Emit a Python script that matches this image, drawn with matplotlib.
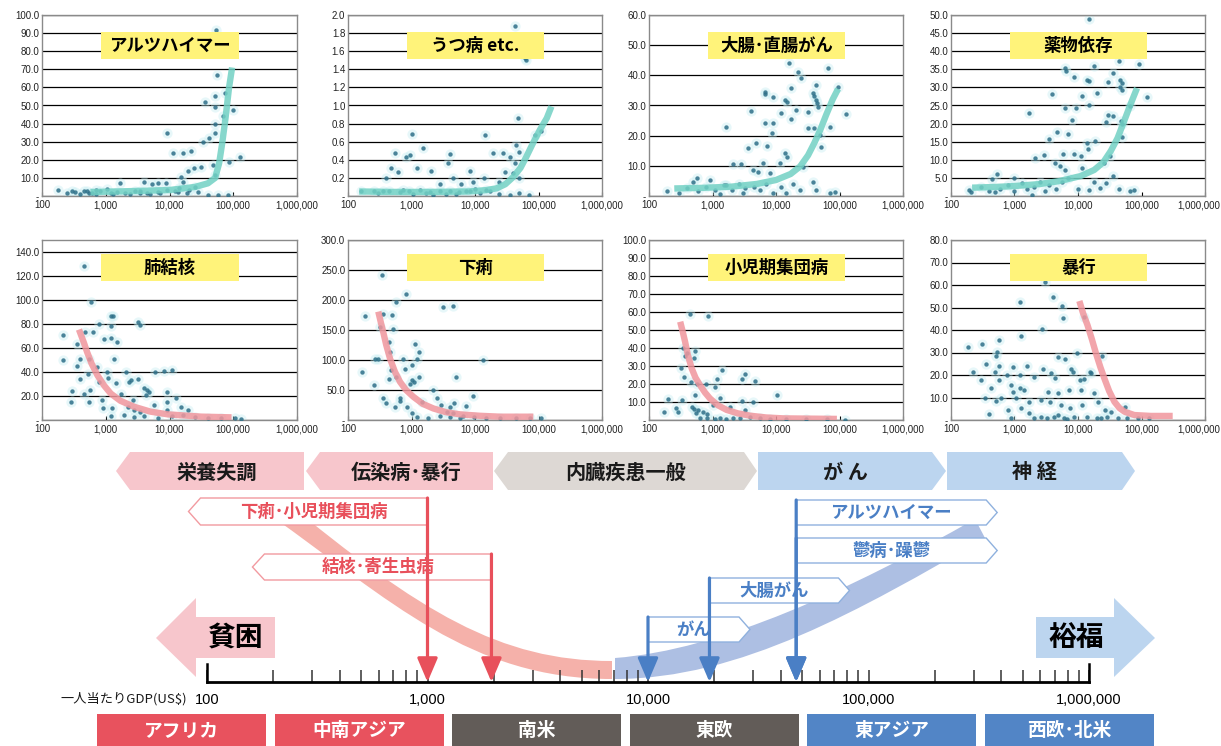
"""Disease burden vs. GDP per capita infographic."""
import numpy as np
import matplotlib
matplotlib.use("Agg")
import matplotlib.pyplot as plt
from matplotlib.patches import Polygon, Rectangle, PathPatch
from matplotlib.path import Path
from matplotlib.ticker import FuncFormatter, LogLocator, NullFormatter, NullLocator

plt.rcParams["font.family"] = ["Noto Sans CJK JP", "DejaVu Sans"]

W, H = 1221, 746

# ---------------- scatter panels: (GDP per capita, value) ----------------
alz_pts = [(180, 3.3), (245, 1.8), (330, 2.4), (450, 3.0), (600, 1.8), (1050, 3.7), (1500, 2.4),
           (2000, 1.5), (2900, 3.0), (4500, 1.8), (6500, 2.4), (9300, 3.3), (13500, 2.2),
           (19000, 1.5), (28000, 2.4), (40000, 0.6), (57000, 0.5), (83000, 0.4), (400, 1.1),
           (550, 1.5), (700, 0.9), (1200, 1.8), (2400, 0.9), (3400, 1.5), (5000, 0.9), (7000, 1.5),
           (300, 2.5), (800, 2.8), (1700, 7.0), (4000, 8.0), (5400, 6.4), (6500, 7.0), (8800, 7.4),
           (9300, 35.0), (11200, 23.6), (16000, 24.0), (22000, 25.0), (16000, 8.0), (15200, 10.7),
           (19400, 14.0), (24500, 15.3), (31500, 15.8), (48000, 17.0), (87000, 19.0),
           (126000, 21.7), (33500, 30.0), (41500, 32.0), (51000, 34.6), (51000, 40.0),
           (51000, 11.6), (51000, 49.0), (70000, 44.0), (100000, 47.5), (36000, 52.0),
           (51000, 55.0), (75000, 57.0), (56000, 66.9), (54000, 91.7), (14000, 4.5), (25000, 5.0),
           (12000, 3.0), (20000, 3.5), (3500, 2.5), (1300, 1.0), (700, 3.2), (500, 2.8)]
alz_curve_x = [575, 2000, 10000, 25000, 40000, 52000, 60000, 67000, 75000, 86000, 96000]
alz_curve_y = [2.2, 2.6, 3.3, 5.0, 7.0, 10.0, 18.0, 29.0, 42.0, 60.0, 71.0]

dep_pts = [(42000, 1.88), (64000, 1.50), (62000, 1.52), (48000, 0.86), (87000, 0.67),
           (110000, 0.72), (45000, 0.56), (49000, 0.49), (36000, 0.43), (28000, 0.48),
           (19000, 0.48), (14500, 0.67), (42000, 0.36), (30000, 0.27), (24000, 0.16),
           (50000, 0.20), (40000, 0.25), (1000, 0.68), (1500, 0.53), (940, 0.45), (830, 0.43),
           (540, 0.48), (480, 0.31), (610, 0.27), (400, 0.20), (1200, 0.31), (2000, 0.28),
           (4000, 0.46), (3700, 0.36), (4500, 0.20), (2800, 0.13), (8300, 0.28), (6000, 0.13),
           (9300, 0.16), (14000, 0.20), (160, 0.06), (260, 0.06), (350, 0.05), (450, 0.06),
           (650, 0.04), (930, 0.05), (1350, 0.07), (1950, 0.04), (2800, 0.05), (4000, 0.06),
           (5700, 0.04), (8200, 0.05), (11800, 0.03), (17000, 0.05), (24000, 0.02),
           (35000, 0.01), (50000, 0.03), (72000, 0.01), (730, 0.07), (1050, 0.02), (2200, 0.01),
           (3500, 0.02), (5000, 0.02), (7300, 0.06), (15000, 0.07), (300, 0.03), (1700, 0.03),
           (10000, 0.08)]
dep_curve_x = [150, 500, 2000, 8000, 15000, 22000, 30000, 40000, 52000, 64000, 80000, 105000,
               135000, 160000]
dep_curve_y = [0.05, 0.045, 0.045, 0.05, 0.065, 0.085, 0.13, 0.21, 0.31, 0.43, 0.57, 0.73,
               0.86, 0.99]

crc_pts = [(16000, 44.2), (22000, 41.2), (25000, 39.0), (66000, 42.3), (95000, 36.2),
           (17500, 35.7), (6600, 34.6), (6700, 33.8), (9000, 32.7), (13800, 31.8), (15000, 31.3),
           (21000, 28.5), (12000, 27.4), (4100, 28.3), (32000, 28.0), (38000, 34.0),
           (40000, 33.0), (42000, 31.8), (44000, 30.7), (46000, 29.6), (42000, 36.8),
           (126000, 27.2), (1650, 22.8), (17000, 25.4), (6600, 24.3), (9000, 24.3), (32000, 22.4),
           (40000, 22.4), (70000, 23.0), (8500, 20.8), (49000, 20.2), (52000, 16.4), (4900, 17.7),
           (3600, 15.8), (7100, 16.6), (13800, 14.1), (15000, 13.0), (2100, 10.6), (2800, 10.6),
           (6300, 10.8), (11400, 10.8), (27000, 9.7), (4400, 8.6), (5200, 8.0), (8000, 7.5),
           (490, 4.8), (560, 5.9), (900, 5.3), (1650, 3.6), (38000, 4.8), (18500, 4.0),
           (14500, 1.1), (43000, 2.0), (23500, 2.0), (70000, 1.1), (84000, 1.4), (190, 1.8),
           (300, 1.1), (400, 2.5), (600, 1.5), (800, 3.0), (1100, 2.0), (1500, 3.5), (2000, 2.0),
           (2600, 4.0), (3300, 2.5), (4500, 3.0), (5500, 2.0), (7000, 4.0), (9000, 1.0),
           (12000, 3.0), (1300, 0.5), (3000, 1.0)]
crc_curve_x = [250, 700, 2000, 5000, 10000, 17000, 24000, 32000, 40000, 50000, 62000, 78000, 95000]
crc_curve_y = [2.5, 2.7, 3.1, 4.0, 5.3, 7.3, 9.8, 13.5, 17.5, 22.0, 27.0, 32.0, 35.5]

drug_pts = [(15000, 48.8), (91000, 36.5), (44000, 37.2), (17700, 35.8), (6300, 35.3),
            (6500, 34.4), (8700, 32.8), (13800, 32.1), (15000, 31.7), (30000, 31.5),
            (36000, 34.0), (46000, 32.1), (49000, 31.2), (46000, 30.1), (49000, 29.4),
            (120000, 27.3), (3900, 28.3), (11500, 27.7), (20000, 28.4), (15000, 25.2),
            (6300, 24.3), (9300, 24.3), (1700, 22.9), (30000, 22.5), (36000, 22.2), (66000, 24.8),
            (48000, 20.6), (50000, 20.0), (8000, 21.1), (28000, 20.4), (4700, 17.6), (7000, 17.0),
            (3500, 15.8), (50000, 16.3), (13800, 14.7), (14500, 13.0), (18800, 15.1), (2100, 10.6),
            (2900, 11.2), (5900, 11.5), (8500, 11.7), (11000, 11.0), (26000, 9.2), (32000, 11.0),
            (4400, 9.2), (5300, 8.3), (6300, 7.3), (11500, 7.8), (36000, 5.5), (17700, 3.9),
            (28000, 3.5), (22000, 2.3), (44000, 2.0), (66000, 1.4), (75000, 1.6), (15000, 1.6),
            (10000, 1.8), (530, 6.0), (440, 4.6), (970, 5.0), (190, 1.6), (210, 1.1), (300, 2.5),
            (400, 1.5), (500, 1.0), (600, 2.0), (800, 3.0), (1000, 1.5), (1300, 3.5), (1600, 2.0),
            (2000, 2.5), (2500, 4.0), (3000, 1.5), (3500, 3.0), (4500, 1.8), (5500, 4.0),
            (7000, 5.0), (1900, 0.4)]
drug_curve_x = [215, 500, 1000, 2500, 5000, 11000, 18000, 25000, 33000, 42000, 52000, 66000, 85000]
drug_curve_y = [2.3, 2.5, 2.75, 3.3, 4.1, 5.5, 7.2, 9.3, 12.5, 16.0, 20.2, 25.0, 29.8]

tb_pts = [(455, 128.5), (580, 98.0), (210, 49.7), (210, 71.0), (360, 63.5), (480, 73.0),
          (640, 73.0), (790, 80.0), (1200, 86.5), (1300, 87.0), (1200, 78.7), (940, 67.7),
          (1200, 68.0), (1500, 65.0), (1350, 50.5), (3150, 82.0), (3400, 79.3), (550, 51.0),
          (400, 51.0), (350, 45.0), (390, 34.5), (520, 38.7), (740, 44.0), (1060, 40.0),
          (2100, 40.0), (5900, 40.0), (8300, 40.9), (11000, 41.4), (300, 24.3), (290, 15.2),
          (450, 22.0), (570, 25.4), (550, 14.6), (790, 31.8), (870, 16.6), (890, 9.7),
          (1100, 35.0), (1440, 31.2), (1270, 9.7), (1200, 3.6), (1730, 22.0), (2330, 31.8),
          (2450, 33.0), (3240, 34.0), (2650, 16.6), (4000, 26.8), (4400, 24.9), (4300, 20.7),
          (4800, 23.5), (5800, 12.4), (9100, 23.5), (9000, 15.2), (12700, 18.5), (15200, 11.0),
          (9000, 8.3), (19400, 8.3), (16000, 4.1), (2200, 11.0), (2800, 8.3), (3500, 7.0),
          (1950, 4.0), (2800, 2.8), (4000, 3.6), (6500, 1.9), (11000, 3.3), (25000, 2.8),
          (40000, 1.9), (65000, 1.9), (105000, 1.4), (130000, 0.6)]
tb_curve_x = [380, 450, 510, 600, 740, 950, 1200, 1700, 2800, 5000, 9400, 31600, 94000]
tb_curve_y = [75.4, 65.0, 56.6, 47.0, 37.3, 28.5, 22.0, 16.0, 11.0, 7.0, 4.7, 2.8, 2.2]

dia_pts = [(340, 241), (820, 210), (570, 197), (185, 173), (360, 177), (500, 175), (510, 152),
           (320, 155), (3100, 188), (4450, 190.6), (450, 130), (460, 113), (1140, 127), (1290, 114),
           (1200, 102), (270, 102), (300, 102), (740, 101), (13500, 100.5), (1000, 91), (790, 85.6),
           (470, 83), (165, 80), (450, 68), (570, 72), (1000, 66), (1100, 63.5), (950, 60.8),
           (1320, 72), (5100, 72), (260, 59), (350, 37), (660, 31.5), (650, 36), (400, 27.6),
           (550, 22), (1450, 30.4), (2200, 49.7), (2500, 36), (2900, 24.9), (4000, 22),
           (4700, 27.6), (9200, 40.3), (7100, 23.8), (840, 22), (1000, 11), (1200, 5.5),
           (1850, 3.9), (2800, 7), (4000, 5.5), (5800, 3.9), (9500, 5.5), (15000, 3.9),
           (25000, 2.8), (45000, 3.9), (74000, 3.9), (110000, 2.8), (3600, 13.8), (4500, 11),
           (6500, 7)]
dia_curve_x = [300, 330, 360, 400, 460, 550, 660, 820, 1070, 1500, 2200, 3500, 5800, 12000,
               25000, 83000]
dia_curve_y = [180.7, 162, 146, 125, 102, 80, 63.5, 50, 38.7, 27, 19.3, 13, 9.4, 7, 5.5, 5.5]

child_pts = [(440, 58.7), (860, 58.0), (340, 39.8), (400, 37.0), (530, 38.3), (370, 35.7),
             (510, 34.6), (1390, 27.8), (320, 29.0), (3250, 25.4), (2880, 22.8), (4700, 21.7),
             (1170, 22.8), (355, 24.0), (455, 21.0), (560, 20.0), (790, 19.8), (1100, 18.1),
             (10200, 13.9), (530, 13.9), (200, 11.7), (330, 11.1), (2900, 10.6), (4400, 10.2),
             (1300, 12.0), (270, 6.9), (285, 4.6), (170, 4.3), (470, 7.4), (520, 6.1), (550, 3.7),
             (600, 5.6), (720, 4.6), (810, 3.1), (1030, 8.3), (3200, 5.6), (1900, 7.4), (810, 0.9),
             (1100, 0.4), (1300, 1.3), (1650, 0.6), (2100, 1.3), (2700, 0.9), (3900, 1.9),
             (5600, 0.9), (8000, 0.6), (14500, 0.6), (30000, 0.4), (63000, 0.4), (120000, 0.1),
             (640, 0.9)]
child_curve_x = [310, 340, 370, 410, 470, 540, 635, 760, 910, 1200, 1670, 2500, 3900, 7000,
                 13000, 91000]
child_curve_y = [54.6, 49, 43.5, 36, 28.7, 23.5, 19.4, 15.3, 12, 8.3, 5.6, 3.7, 2.4, 1.4, 0.9, 0.6]

viol_pts = [(3000, 61.2), (1230, 52.3), (4100, 54.8), (5500, 50.7), (5900, 45.2), (12300, 45.9),
            (2680, 40.4), (1260, 37.3), (183, 32.3), (310, 33.9), (560, 35.6), (530, 30.4),
            (510, 28.6), (9600, 29.6), (23500, 28.6), (4800, 28.1), (6300, 27.0), (355, 24.7),
            (565, 24.1), (940, 23.7), (1580, 24.1), (2780, 22.7), (220, 21.5), (500, 21.5),
            (760, 20.0), (1230, 20.0), (2000, 19.3), (3740, 20.7), (4300, 18.5), (8300, 21.5),
            (7800, 22.7), (10700, 17.8), (12500, 18.2), (15600, 21.5), (16200, 20.7), (300, 17.8),
            (420, 14.4), (560, 17.8), (880, 15.6), (940, 12.6), (1230, 14.4), (1420, 13.3),
            (3330, 12.6), (4900, 11.9), (7300, 13.3), (11200, 13.3), (18000, 11.9), (20500, 8.1),
            (345, 9.6), (610, 9.6), (510, 8.4), (1050, 9.6), (1710, 8.1), (2620, 8.9), (3660, 8.1),
            (5400, 6.7), (7500, 5.5), (11500, 6.7), (27000, 4.4), (33000, 3.4), (54000, 5.9),
            (400, 2.5), (780, 4.4), (1260, 5.5), (1710, 3.0), (4800, 2.2), (880, 0.7), (2600, 1.5),
            (3300, 1.0), (4200, 1.5), (6000, 1.0), (8800, 1.5), (14000, 1.5), (20000, 1.0),
            (29000, 1.5), (42000, 1.0), (60000, 0.7), (87000, 1.0), (130000, 1.0), (2000, 0.7),
            (6800, 0.4), (23000, 0.7)]
viol_curve_x = [10500, 12000, 14100, 16500, 19200, 22500, 26000, 31000, 37500, 45000, 54000,
                77000, 141000, 310000]
viol_curve_y = [52.9, 47.5, 42.2, 36, 29.6, 23.5, 18.5, 12.8, 8.1, 5.3, 3.7, 2.2, 1.8, 1.8]

panel_titles = ["アルツハイマー", "うつ病 etc.", "大腸･直腸がん", "薬物依存",
                "肺結核", "下痢", "小児期集団病", "暴行"]
panel_points = [alz_pts, dep_pts, crc_pts, drug_pts, tb_pts, dia_pts, child_pts, viol_pts]
panel_curves = [(alz_curve_x, alz_curve_y), (dep_curve_x, dep_curve_y),
                (crc_curve_x, crc_curve_y), (drug_curve_x, drug_curve_y),
                (tb_curve_x, tb_curve_y), (dia_curve_x, dia_curve_y),
                (child_curve_x, child_curve_y), (viol_curve_x, viol_curve_y)]
panel_ymax = [100, 2.0, 60, 50, 140, 300, 100, 80]
panel_ystep = [10, 0.2, 10, 5, 20, 50, 10, 10]
panel_ytop = [100, 2.0, 60, 50, 150, 300, 100, 80]
decade_ticks = [100, 1000, 10000, 100000, 1000000]

# ---------------- lower infographic ----------------
cat_labels = ["栄養失調", "伝染病･暴行", "内臓疾患一般", "が ん", "神 経"]
region_labels = ["アフリカ", "中南アジア", "南米", "東欧", "東アジア", "西欧･北米"]
red_labels = ["下痢･小児期集団病", "結核･寄生虫病"]
red_gdp = [1000, 1950]
blue_labels = ["がん", "大腸がん", "鬱病･躁鬱", "アルツハイマー"]
blue_gdp = [10000, 19000, 47000, 47000]

# colours
YELLOW = "#fff37a"
TEAL = "#72d1c4"
PINKLINE = "#f0969d"
DOT = "#2d6f88"
GLOW = "#c4edf2"
PINK = "#f7c6cc"
GRAY = "#ddd8d4"
LBLUE = "#bcd5ef"
RED = "#e8525e"
DGRAY = "#625c58"
BLUE = "#5285c6"
RED_TXT = "#e8505b"
BLUE_TXT = "#4a7fc5"


def rect(l, t, r, b):
    return [l / W, 1 - b / H, (r - l) / W, (b - t) / H]


def draw_panel(ax, i):
    pts = panel_points[i]
    xs = [p[0] for p in pts]
    ys = [p[1] for p in pts]
    cx, cy = panel_curves[i]
    last_col = i % 4 == 3
    ax.set_xscale("log")
    ax.set_xlim(100, 1e6)
    ax.set_ylim(0, panel_ytop[i])
    ax.set_yticks(np.arange(0, panel_ymax[i] + panel_ystep[i] / 2, panel_ystep[i]))
    ax.yaxis.set_major_formatter(
        FuncFormatter(lambda v, _: "-" if abs(v) < 1e-9 else f"{v:.1f}"))
    ax.set_xticks(decade_ticks)
    ax.xaxis.set_minor_locator(NullLocator())

    def xfmt(v, _):
        if last_col and v > 5e5:
            return ""
        return f"{int(round(v)):,}"

    ax.xaxis.set_major_formatter(FuncFormatter(xfmt))
    if last_col:
        # keep the last label inside the figure
        ax.annotate("1,000,000", xy=(1, 0), xycoords="axes fraction", xytext=(15, -4),
                    textcoords="offset pixels", ha="right", va="top", fontsize=7,
                    color="#222", family="Liberation Sans")
    ax.grid(axis="y", color="black", lw=0.9)
    ax.set_axisbelow(True)
    for s in ax.spines.values():
        s.set_color("#8a8a8a")
        s.set_linewidth(1.0)
    ax.tick_params(axis="y", length=0, pad=2, labelsize=7, labelcolor="#222",
                   labelfontfamily="Liberation Sans")
    ax.tick_params(axis="x", direction="in", length=3, width=0.8, pad=3, labelsize=7,
                   labelcolor="#222", labelfontfamily="Liberation Sans")

    ax.scatter(xs, ys, s=55, color=GLOW, alpha=0.4, lw=0, zorder=2)
    ax.scatter(xs, ys, s=10, color=DOT, alpha=0.85, lw=0, zorder=3)
    ccol = TEAL if i < 4 else PINKLINE
    ax.plot(cx, cy, color=ccol, lw=4.6, alpha=0.85, solid_capstyle="butt", zorder=4)

    y0, h = (0.757, 0.148) if i < 4 else (0.772, 0.15)
    ax.add_patch(Rectangle((0.232, y0), 0.54, h, transform=ax.transAxes,
                           facecolor=YELLOW, edgecolor="none", zorder=5))
    ax.text(0.502, y0 + h / 2, panel_titles[i], transform=ax.transAxes, ha="center",
            va="center", fontsize=12.5, fontweight="bold", color="black", zorder=6)


fig = plt.figure(figsize=(W / 100, H / 100), dpi=100)
fig.patch.set_facecolor("white")

# canvas for layout shapes (pixel coordinates)
cv = fig.add_axes([0, 0, 1, 1])
cv.set_xlim(0, W)
cv.set_ylim(H, 0)
cv.axis("off")


def tag(x0, x1, y0, y1, ltip, rtip, color):
    ym = (y0 + y1) / 2
    verts = [(x0, y0), (x1, y0), (x1 + rtip, ym), (x1, y1), (x0, y1), (x0 - ltip, ym)]
    cv.add_patch(Polygon(verts, closed=True, facecolor=color, edgecolor="none"))


def band(upper, lower, color):
    # upper / lower: 4 bezier control points each, left to right
    verts = list(upper) + list(lower[::-1])[0:1] + list(lower[::-1])[1:] + [upper[0]]
    codes = ([Path.MOVETO] + [Path.CURVE4] * 3 + [Path.LINETO] + [Path.CURVE4] * 3
             + [Path.CLOSEPOLY])
    cv.add_patch(PathPatch(Path(verts, codes), facecolor=color, edgecolor="none"))


cat_colors = [PINK, PINK, GRAY, LBLUE, LBLUE]
cat_body = [(130, 304), (320, 493), (508, 744), (758, 932), (947, 1122)]
cat_tips = [(14, 0), (14, 0), (14, 13), (0, 14), (0, 13)]
for lab, col, (x0, x1), (lt, rt) in zip(cat_labels, cat_colors, cat_body, cat_tips):
    tag(x0, x1, 452, 490, lt, rt, col)
    cv.text((x0 + x1) / 2, 472, lab, ha="center", va="center", fontsize=14.5,
            fontweight="bold", color="#1a1a1a")

region_colors = [RED, RED, DGRAY, DGRAY, BLUE, BLUE]
for k, (lab, col) in enumerate(zip(region_labels, region_colors)):
    x0 = 97 + k * 177.6
    cv.add_patch(Rectangle((x0, 714), 169, 40, facecolor=col, edgecolor="none"))
    cv.text(x0 + 84.5, 731, lab, ha="center", va="center", fontsize=13.5,
            fontweight="bold", color="white")

# decorative trend bands
band([(284, 500), (420, 612), (500, 661), (612, 661)],
     [(270, 515), (390, 600), (470, 679), (612, 679)], "#f5b1aa")
band([(615, 658), (720, 650), (850, 590), (975, 519)],
     [(615, 679), (740, 679), (860, 610), (985, 538)], "#adbfe3")

# big poverty / wealth arrows
cv.add_patch(Polygon([(156, 638), (196, 598), (196, 617), (275, 617), (275, 658),
                      (196, 658), (196, 677)], closed=True, facecolor=PINK, edgecolor="none"))
cv.add_patch(Polygon([(1036, 617), (1114, 617), (1114, 598), (1155, 638), (1114, 677),
                      (1114, 658), (1036, 658)], closed=True, facecolor=LBLUE, edgecolor="none"))
cv.text(236, 638, "貧困", ha="center", va="center", fontsize=20, fontweight="bold",
        color="black")
cv.text(1076, 638, "裕福", ha="center", va="center", fontsize=20, fontweight="bold",
        color="black")
cv.text(187, 699, "一人当たりGDP(US$)", ha="right", va="center", fontsize=9.5,
        color="#1a1a1a")

# scatter panels
col_lr = [(42, 297), (348, 602), (649, 903), (951, 1205)]
row_tb = [(15, 196), (240, 420)]
for i in range(8):
    l, r = col_lr[i % 4]
    t, b = row_tb[i // 4]
    draw_panel(fig.add_axes(rect(l, t, r, b)), i)

# GDP axis
gx = fig.add_axes(rect(207, 495, 1089, 682))
gx.patch.set_visible(False)
gx.set_xscale("log")
gx.set_xlim(100, 1e6)
gx.set_ylim(0, 187)
gx.set_yticks([])
gx.spines["top"].set_visible(False)
gx.spines["bottom"].set_linewidth(2.0)
for side in ("left", "right"):
    gx.spines[side].set_bounds(0, 18)
    gx.spines[side].set_linewidth(1.8)
gx.xaxis.set_major_locator(LogLocator(base=10))
gx.xaxis.set_minor_locator(LogLocator(base=10, subs=np.arange(2, 10)))
gx.xaxis.set_minor_formatter(NullFormatter())
gx.xaxis.set_major_formatter(FuncFormatter(lambda v, _: f"{int(round(v)):,}"))
gx.tick_params(axis="x", which="both", direction="in", length=9, width=1.1, color="#333",
               pad=8, labelsize=10.5, labelfontfamily="Liberation Sans")


def vert_arrow(g, top, color):
    gx.annotate("", xy=(g, 0), xytext=(g, top),
                arrowprops=dict(arrowstyle="-|>,head_length=1.45,head_width=0.62",
                                color=color, lw=2.3, shrinkA=0, shrinkB=0),
                zorder=6, annotation_clip=False)


red_box_h = [(184, 157), (128, 102)]
red_box_dec = 239 / 220.5
notch = 12 / 220.5
for lab, g, (top, bot) in zip(red_labels, red_gdp, red_box_h):
    left = g / 10 ** red_box_dec
    mid = (top + bot) / 2
    verts = [(g, top), (left * 10 ** notch, top), (left, mid), (left * 10 ** notch, bot), (g, bot)]
    gx.add_patch(Polygon(verts, closed=True, facecolor="white", edgecolor="#f29aa0", lw=1.0,
                         zorder=3, clip_on=False))
    cxv = 10 ** ((np.log10(left) + notch + np.log10(g)) / 2)
    gx.text(cxv, mid, lab, ha="center", va="center", fontsize=12.5, fontweight="bold",
            color=RED_TXT, zorder=4, clip_on=False)
    vert_arrow(g, top, RED_TXT)

blue_box_h = [(65, 40), (104, 79), (144, 119), (182, 157)]
blue_box_px = [91, 129, 190, 190]
for lab, g, (top, bot), wpx in zip(blue_labels, blue_gdp, blue_box_h, blue_box_px):
    right = g * 10 ** (wpx / 220.5)
    mid = (top + bot) / 2
    verts = [(g, top), (right, top), (right * 10 ** (11 / 220.5), mid), (right, bot), (g, bot)]
    gx.add_patch(Polygon(verts, closed=True, facecolor="white", edgecolor="#8fb1de", lw=1.0,
                         zorder=3, clip_on=False))
    cxv = 10 ** ((np.log10(g) + np.log10(right)) / 2)
    gx.text(cxv, mid, lab, ha="center", va="center", fontsize=12.5, fontweight="bold",
            color=BLUE_TXT, zorder=4, clip_on=False)
    vert_arrow(g, top, BLUE_TXT)

fig.savefig("out.png", dpi=100)
